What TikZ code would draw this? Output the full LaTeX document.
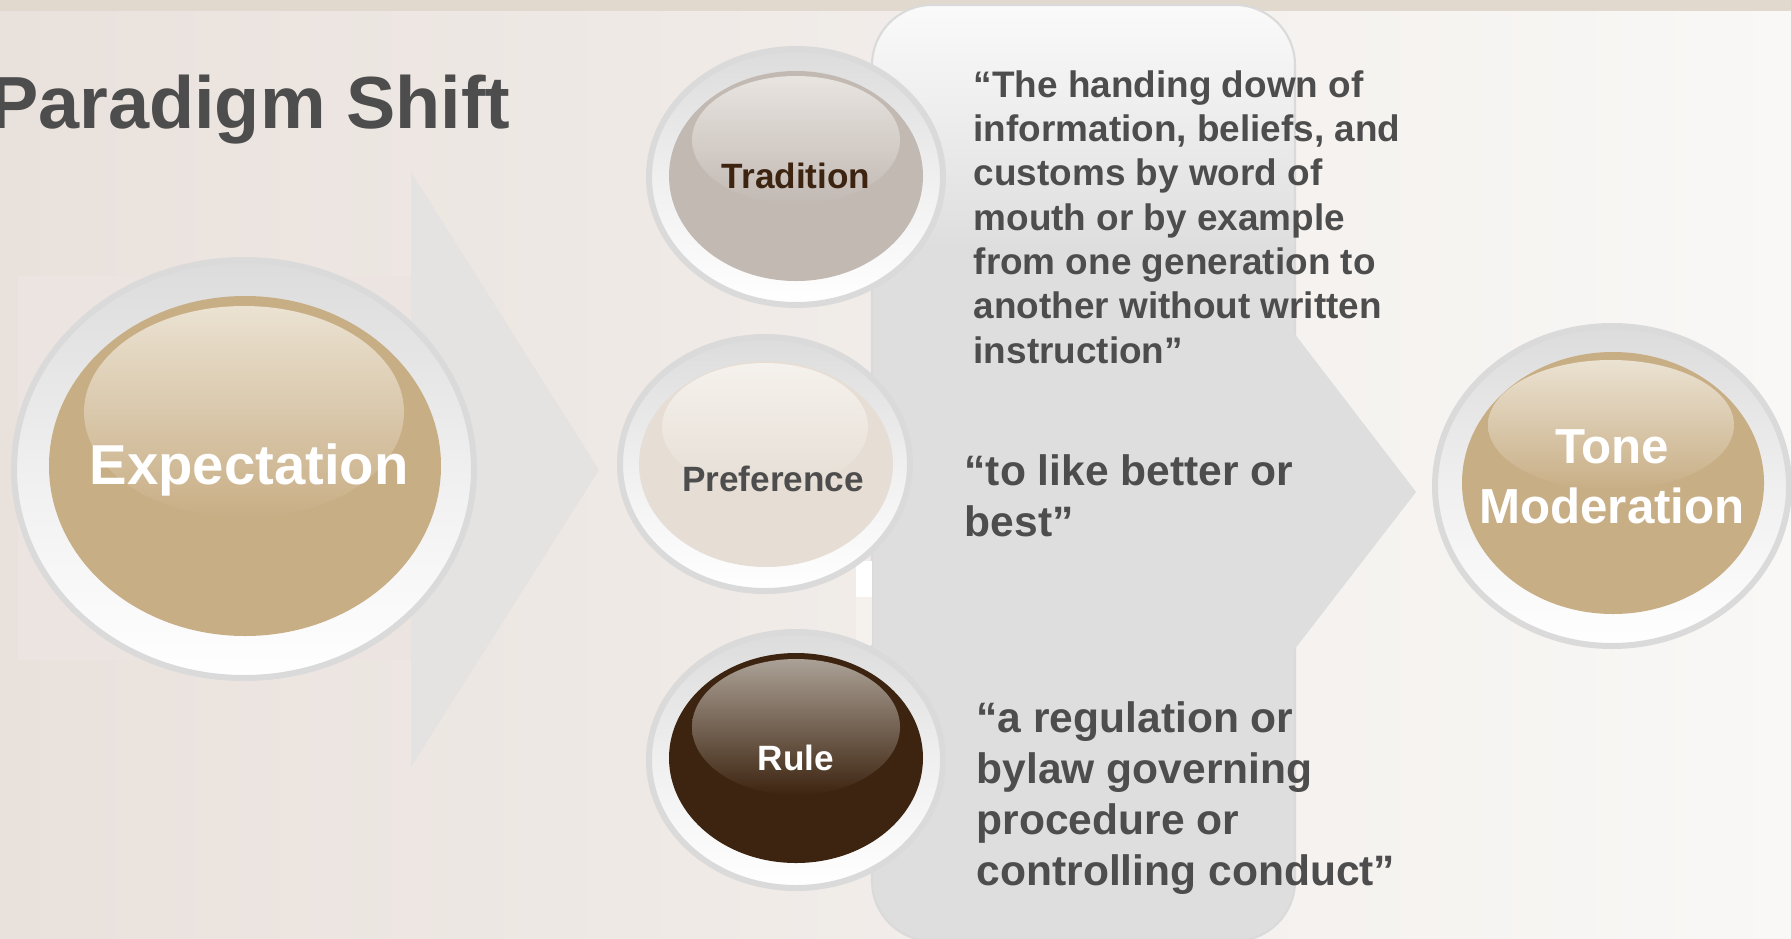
\documentclass[tikz,border=0pt]{standalone}
\usepackage{fontspec}
\setmainfont{Liberation Sans}
\definecolor{bgleft}{HTML}{E9E1DC}
\definecolor{bgright}{HTML}{F9F8F6}
\definecolor{topband}{HTML}{E2D9CE}
\definecolor{shaftpink}{HTML}{ECE4E0}
\definecolor{headgray}{HTML}{E4E3E2}
\definecolor{panelgray}{HTML}{DEDEDE}
\definecolor{paneltop}{HTML}{FAFAFA}
\definecolor{ringedge}{HTML}{DADADA}
\definecolor{ringtop}{HTML}{DCDCDC}
\definecolor{tanbase}{HTML}{C8AE85}
\definecolor{tanhi}{HTML}{EBE2D2}
\definecolor{tradbase}{HTML}{C2B9B3}
\definecolor{tradhi}{HTML}{E8E4E0}
\definecolor{prefbase}{HTML}{E6DED5}
\definecolor{prefhi}{HTML}{F5F1EC}
\definecolor{rulebase}{HTML}{3D2410}
\definecolor{rulehi}{HTML}{ABA196}
\definecolor{txtgray}{HTML}{4D4D4D}
\definecolor{txtbrown}{HTML}{3D2410}
\pgfdeclareverticalshading{panelfade}{100bp}{color(0bp)=(panelgray); color(62bp)=(panelgray); color(75bp)=(paneltop); color(100bp)=(paneltop)}
\begin{document}
\begin{tikzpicture}[x=0.01cm, y=0.01cm,
  outerring/.style={draw=ringedge, line width=0.06cm, top color=ringtop, bottom color=white, middle color=ringtop!45!white},
  headline/.style={font=\fontsize{21}{25}\selectfont\bfseries, text=txtgray, inner sep=0pt},
  bubbletext/.style={font=\fontsize{10}{12}\selectfont\bfseries, inner sep=0pt, anchor=base},
  deftext/.style={text=txtgray, align=left, inner sep=0pt, anchor=base west}]
  \useasboundingbox (0,0) rectangle (1791,938);
  % background
  \shade[left color=bgleft, right color=bgright] (0,0) rectangle (1791,938);
  \fill[topband] (0,927) rectangle (1791,938);
  % left arrow
  \fill[shaftpink] (18,278) rectangle (411,662);
  \fill[headgray] (411,766) -- (599,468) -- (411,171) -- cycle;
  % middle panel and right arrow
  \path[shading=panelfade, draw=ringedge, line width=0.6pt, rounded corners=0.6cm] (872,-3) rectangle (1295,933);
  \fill[panelgray] (1294,605) -- (1416,446) -- (1294,288) -- cycle;
  \fill[white] (856,341) rectangle (872,377);
  \fill[prefhi] (856,293) rectangle (872,341);

  % Expectation
  \path[outerring] (244,469) ellipse [x radius=230, y radius=209];
  \fill[tanbase] (245,472) ellipse [x radius=196, y radius=170];
  \shade[top color=tanhi, bottom color=tanbase] (244,526) ellipse [x radius=160, y radius=106];
  \node[bubbletext, font=\fontsize{16}{19}\selectfont\bfseries, text=white] (expect) at (249,454) {Expectation};

  % Tradition
  \path[outerring] (796,761) ellipse [x radius=147, y radius=128];
  \fill[tradbase] (796,762) ellipse [x radius=127, y radius=105];
  \shade[top color=tradhi, bottom color=tradbase] (796,798) ellipse [x radius=104, y radius=64];
  \node[bubbletext, text=txtbrown] (trad) at (796,750) {Tradition};

  % Preference
  \path[outerring] (765,474) ellipse [x radius=145, y radius=127];
  \fill[prefbase] (766,474) ellipse [x radius=127, y radius=103];
  \shade[top color=prefhi, bottom color=prefbase] (765,511) ellipse [x radius=103, y radius=64];
  \node[bubbletext, text=txtgray] (pref) at (773,447) {Preference};

  % Rule
  \path[outerring] (796,178) ellipse [x radius=147, y radius=128];
  \fill[rulebase] (796,180) ellipse [x radius=127, y radius=105];
  \shade[top color=rulehi, bottom color=rulebase] (796,211) ellipse [x radius=104, y radius=68];
  \node[bubbletext, text=white] (rule) at (796,168) {Rule};

  % Tone Moderation
  \path[outerring] (1612,452) ellipse [x radius=177, y radius=160];
  \fill[tanbase] (1613,455) ellipse [x radius=151, y radius=131];
  \shade[top color=tanhi, bottom color=tanbase] (1611,513) ellipse [x radius=123, y radius=65];
  \node[bubbletext, font=\fontsize{14}{16.8}\selectfont\bfseries, text=white, align=center] (tone) at (1612,415) {Tone\\Moderation};

  % definitions (anchored on the last line)
  \node[deftext, font=\fontsize{10.5}{12.6}\selectfont\bfseries] (tradtext) at (973,575)
    {“The handing down of\\information, beliefs, and\\customs by word of\\mouth or by example\\from one generation to\\another without written\\instruction”};
  \node[deftext, font=\fontsize{12.1}{14.5}\selectfont\bfseries] (preftext) at (964,402)
    {“to like better or\\best”};
  \node[deftext, font=\fontsize{12.1}{14.5}\selectfont\bfseries] (ruletext) at (976,53)
    {“a regulation or\\bylaw governing\\procedure or\\controlling conduct”};

  \node[headline, anchor=base east] (title) at (511,810) {Paradigm Shift};
\end{tikzpicture}
\end{document}
